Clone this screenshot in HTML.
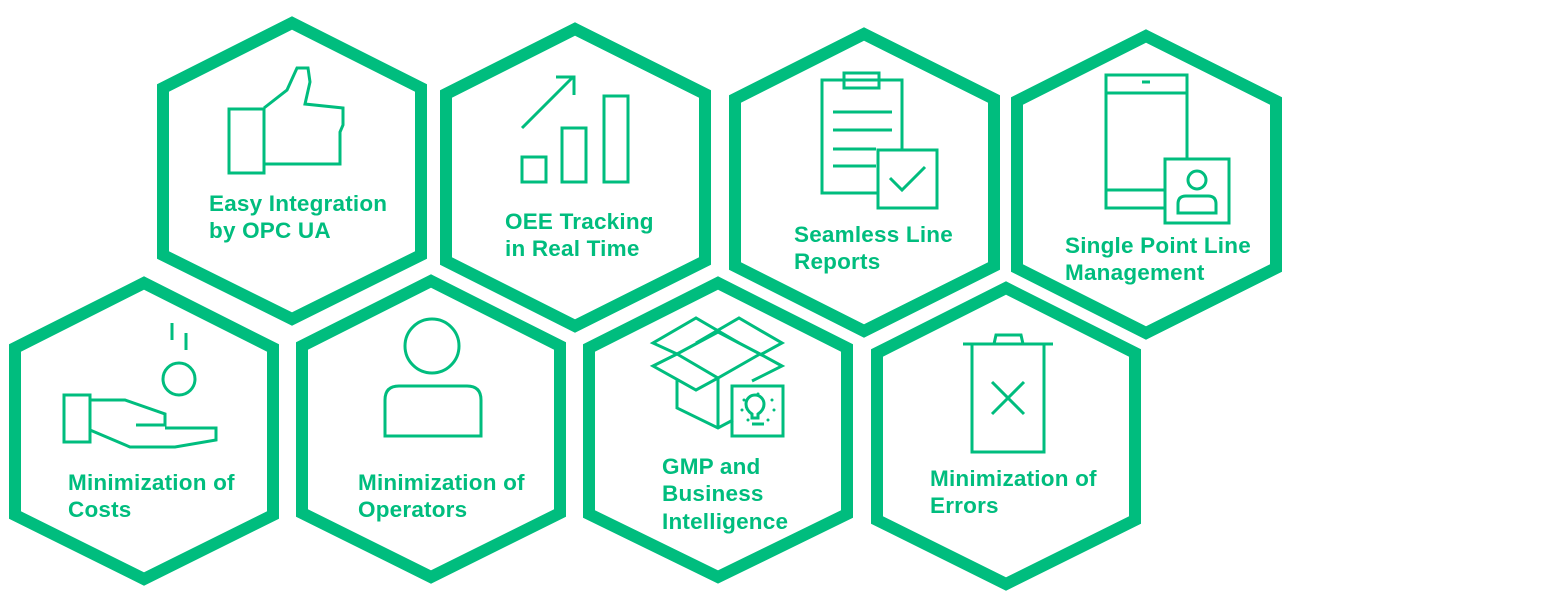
<!DOCTYPE html>
<html><head><meta charset="utf-8"><style>
html,body{margin:0;padding:0;background:#fff;}
svg{display:block}
text{font-family:"Liberation Sans",Arial,sans-serif;font-weight:bold;font-size:22.5px;letter-spacing:0.2px;fill:#00bd7e}
</style></head><body>
<svg width="1550" height="611" viewBox="0 0 1550 611" xmlns="http://www.w3.org/2000/svg">
<g fill="none" stroke="#00bd7e" stroke-width="12" stroke-linejoin="miter">
<polygon points="292,23 421,88 421,255 292,319 163,255 163,88"/>
<polygon points="575,29 705,94 705,261 575,326 446,261 446,94"/>
<polygon points="864,34 994,99 994,266 864,331 735,266 735,99"/>
<polygon points="1146,36 1276,101 1276,268 1146,333 1017,268 1017,101"/>
<polygon points="144,283 273,348 273,515 144,579 15,515 15,348"/>
<polygon points="431,281 560,346 560,513 431,577 302,513 302,346"/>
<polygon points="718,283 847,348 847,514 718,577 589,514 589,348"/>
<polygon points="1006,288 1135,353 1135,520 1006,584 877,520 877,353"/>
</g>
<g fill="none" stroke="#00bd7e" stroke-width="3">
<rect x="229" y="109" width="35" height="64"/>
<polyline points="264,108 287,90 297,68 308,68 310,82 305,104 343,108 343,125 340,132 340,164 264,164"/>
<line x1="522" y1="128" x2="573" y2="77"/><polyline points="556,77 574,77 574,95"/>
<rect x="522" y="157" width="24" height="25"/><rect x="562" y="128" width="24" height="54"/><rect x="604" y="96" width="24" height="86"/>
<polyline points="878,193 822,193 822,80 902,80 902,150"/>
<rect x="844" y="73" width="35" height="15"/>
<line x1="833" y1="112" x2="892" y2="112"/><line x1="833" y1="130" x2="892" y2="130"/><line x1="833" y1="149" x2="876" y2="149"/><line x1="833" y1="166" x2="876" y2="166"/>
<rect x="878" y="150" width="59" height="58"/><polyline points="890,178 902,190 925,167"/>
<polyline points="1165,208 1106,208 1106,75 1187,75 1187,158"/>
<line x1="1106" y1="93" x2="1187" y2="93"/><line x1="1106" y1="190" x2="1164" y2="190"/><line x1="1142" y1="82" x2="1150" y2="82"/>
<rect x="1165" y="159" width="64" height="64"/><circle cx="1197" cy="180" r="9"/><path d="M1178,213 v-9 q0,-8 8,-8 h22 q8,0 8,8 v9 z"/>
<line x1="172" y1="323" x2="172" y2="340"/><line x1="186" y1="333" x2="186" y2="350"/>
<circle cx="179" cy="379" r="16"/>
<rect x="64" y="395" width="26" height="47"/>
<polyline points="90,400 125,400 165,414 165,425 136,425"/>
<polyline points="90,430 130,447 175,447 216,440 216,428 165,428"/>
<circle cx="432" cy="346" r="27"/>
<path d="M385,436 v-36 q0,-14 14,-14 h68 q14,0 14,14 v36 z"/>
<!-- box -->
<polyline points="677,354 653,343 696,318 739,343"/>
<polyline points="696,343 739,318 782,343 760,355"/>
<polyline points="677,354 718,332 760,354"/>
<polyline points="677,354 653,366 696,390 718,378"/>
<polyline points="760,354 782,366 752,381"/>
<polyline points="677,354 718,378 760,354"/>
<polyline points="677,380 677,408 718,428 733,420"/>
<line x1="718" y1="378" x2="718" y2="428"/>
<rect x="732" y="386" width="51" height="50"/>
<path d="M752,418 v-4 q-6,-4 -6,-10 a9,9 0 0 1 18,0 q0,6 -6,10 v4 z"/><line x1="752" y1="424" x2="764" y2="424"/>
<line x1="963" y1="344" x2="1053" y2="344"/><polyline points="994,344 996,335 1021,335 1023,344"/>
<rect x="972" y="344" width="72" height="108"/>
<line x1="992" y1="382" x2="1024" y2="414"/><line x1="1024" y1="382" x2="992" y2="414"/>
</g>
<g fill="#00bd7e"><circle cx="758" cy="394" r="1.5"/><circle cx="744" cy="400" r="1.5"/><circle cx="772" cy="400" r="1.5"/><circle cx="742" cy="410" r="1.5"/><circle cx="774" cy="410" r="1.5"/><circle cx="748" cy="420" r="1.5"/><circle cx="768" cy="420" r="1.5"/></g>
<text x="209" y="211">Easy Integration</text><text x="209" y="238">by OPC UA</text>
<text x="505" y="229">OEE Tracking</text><text x="505" y="256">in Real Time</text>
<text x="794" y="242">Seamless Line</text><text x="794" y="269">Reports</text>
<text x="1065" y="253">Single Point Line</text><text x="1065" y="280">Management</text>
<text x="68" y="490">Minimization of</text><text x="68" y="517">Costs</text>
<text x="358" y="490">Minimization of</text><text x="358" y="517">Operators</text>
<text x="662" y="474">GMP and</text><text x="662" y="501">Business</text><text x="662" y="529">Intelligence</text>
<text x="930" y="486">Minimization of</text><text x="930" y="513">Errors</text>
</svg>
</body></html>
